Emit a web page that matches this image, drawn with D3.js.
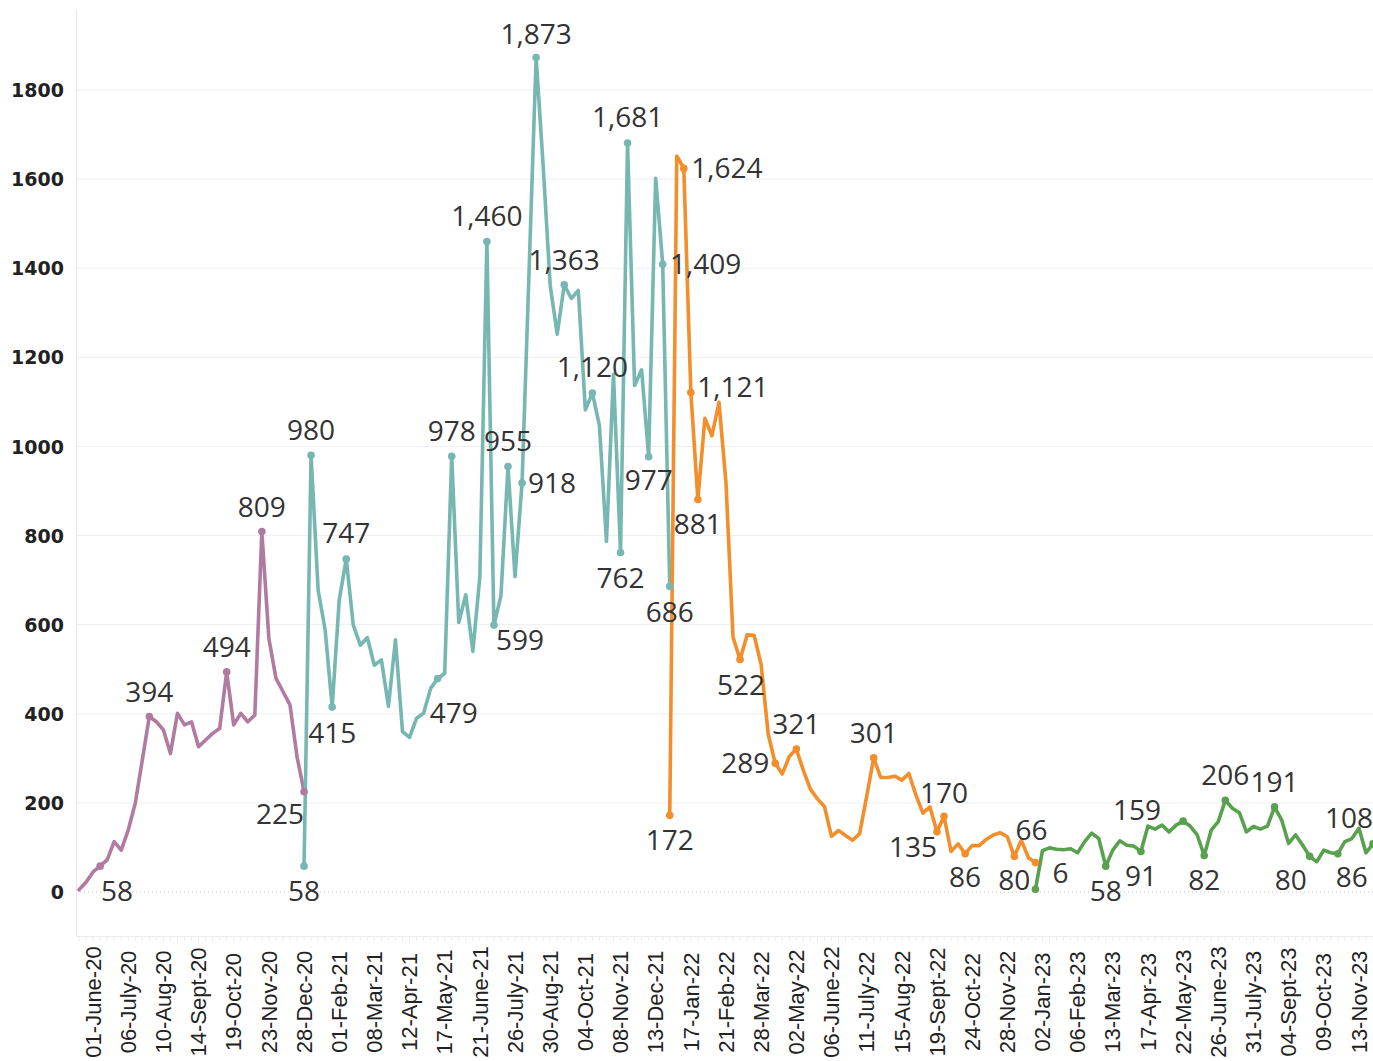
<!DOCTYPE html>
<html>
<head>
<meta charset="utf-8">
<script src="https://cdn.jsdelivr.net/npm/d3@7"></script>
<style>
  body { margin: 0; background: #fff; }
  svg { display: block; }
</style>
</head>
<body>
<svg id="chart"></svg>
<script>
// weekly counts, one line per year; each year starts on the Monday given
const start2020 = "2020-05-18";
const values2020 = [5, 22, 45, 58, 72, 113, 94, 139, 199, 296, 394, 382, 364, 311, 401, 375, 382,
  326, 341, 356, 367, 494, 375, 401, 382, 397, 809, 569, 480, 450, 420, 304, 225];
const labeled2020 = [3, 10, 21, 26, 32];

const start2021 = "2020-12-28";
const values2021 = [58, 980, 678, 588, 415, 655, 747, 599, 554, 571, 509, 521, 417, 566, 360, 347,
  390, 401, 457, 479, 491, 978, 605, 667, 540, 708, 1460, 599, 665, 955, 708, 918, 1395, 1873,
  1630, 1362, 1252, 1363, 1332, 1350, 1082, 1120, 1047, 787, 1162, 762, 1681, 1137, 1172, 977,
  1602, 1409, 686];
const labeled2021 = [0, 1, 4, 6, 19, 21, 26, 27, 29, 31, 33, 37, 41, 45, 46, 49, 51, 52];

const start2022 = "2021-12-27";
const values2022 = [172, 1652, 1624, 1121, 881, 1063, 1024, 1099, 918, 572, 522, 577, 576, 510,
  354, 289, 265, 304, 321, 273, 231, 209, 192, 125, 138, 127, 116, 131, 214, 301, 257, 257, 260,
  251, 266, 218, 177, 191, 135, 170, 91, 108, 86, 104, 104, 118, 128, 133, 124, 80, 116, 77, 66];
const labeled2022 = [0, 2, 3, 4, 10, 15, 18, 29, 38, 39, 42, 49, 52];

const start2023 = "2022-12-26";
const values2023 = [6, 93, 99, 96, 95, 97, 88, 113, 132, 120, 58, 94, 115, 105, 103, 91, 148, 141,
  150, 135, 150, 159, 148, 128, 82, 139, 158, 206, 188, 178, 135, 147, 141, 148, 191, 162, 109,
  128, 105, 80, 68, 94, 88, 86, 113, 120, 143, 88, 108];
const labeled2023 = [0, 10, 15, 21, 24, 27, 34, 39, 43, 48];

const tickStart = "2020-06-01";
const tickLabels = ["01-June-20", "06-July-20", "10-Aug-20", "14-Sept-20", "19-Oct-20",
  "23-Nov-20", "28-Dec-20", "01-Feb-21", "08-Mar-21", "12-Apr-21", "17-May-21", "21-June-21",
  "26-July-21", "30-Aug-21", "04-Oct-21", "08-Nov-21", "13-Dec-21", "17-Jan-22", "21-Feb-22",
  "28-Mar-22", "02-May-22", "06-June-22", "11-July-22", "15-Aug-22", "19-Sept-22", "24-Oct-22",
  "28-Nov-22", "02-Jan-23", "06-Feb-23", "13-Mar-23", "17-Apr-23", "22-May-23", "26-June-23",
  "31-July-23", "04-Sept-23", "09-Oct-23", "13-Nov-23"];
const yTicks = [0, 200, 400, 600, 800, 1000, 1200, 1400, 1600, 1800];

// label nudges (px) relative to the point, keyed by year and index
const labelOffsets = {
  2020: { 3: [17, 25], 10: [0, -24], 21: [0, -25], 26: [0, -24], 32: [-24, 22] },
  2021: { 0: [0, 25], 1: [0, -25], 4: [0, 26], 6: [0, -26], 19: [16, 35], 21: [0, -25],
    26: [0, -25], 27: [26, 15], 29: [0, -25], 31: [30, 0], 33: [0, -23], 37: [0, -25],
    41: [0, -26], 45: [0, 26], 46: [0, -26], 49: [0, 24], 51: [43, 0], 52: [0, 26] },
  2022: { 0: [0, 25], 2: [43, 0], 3: [42, -5], 4: [0, 25], 10: [1, 26], 15: [-30, 0],
    18: [0, -25], 29: [0, -25], 38: [-24, 15], 39: [0, -23], 42: [0, 24], 49: [0, 24],
    52: [-4, -32] },
  2023: { 0: [25, -16], 10: [0, 25], 15: [0, 25], 21: [-46, -11], 24: [0, 25], 27: [0, -25],
    34: [0, -25], 39: [-19, 24], 43: [14, 24], 48: [-24, -26] }
};

const width = 1373, height = 1061;
const parse = d3.utcParse("%Y-%m-%d");

const series = [
  { year: 2020, start: start2020, values: values2020, labeled: labeled2020, color: "#b07aa1" },
  { year: 2021, start: start2021, values: values2021, labeled: labeled2021, color: "#76b7b2" },
  { year: 2022, start: start2022, values: values2022, labeled: labeled2022, color: "#f28e2b" },
  { year: 2023, start: start2023, values: values2023, labeled: labeled2023, color: "#59a14f" }
];
series.forEach(s => {
  const d0 = parse(s.start);
  s.points = s.values.map((v, i) => ({ date: d3.utcDay.offset(d0, 7 * i), value: v, i }));
});

const first = series[0].points[0].date;
const last = series[3].points[series[3].points.length - 1].date;

const x = d3.scaleUtc().domain([first, last]).range([79, 1373]);
const y = d3.scaleLinear().domain([0, 1800]).range([892, 90]);

const plotLeft = 76, plotTop = 10, plotBottom = 936;

const svg = d3.select("#chart")
  .attr("width", width)
  .attr("height", height)
  .attr("viewBox", `0 0 ${width} ${height}`);

// gridlines
svg.append("g")
  .selectAll("line")
  .data(yTicks.filter(t => t !== 0))
  .enter()
  .append("line")
  .attr("x1", plotLeft)
  .attr("x2", width)
  .attr("y1", d => y(d))
  .attr("y2", d => y(d))
  .attr("stroke", "#efefef")
  .attr("stroke-width", 1);

svg.append("line")
  .attr("x1", plotLeft)
  .attr("x2", width)
  .attr("y1", y(0))
  .attr("y2", y(0))
  .attr("stroke", "#c4c4c4")
  .attr("stroke-width", 1)
  .attr("stroke-dasharray", "1,3");

// axis rulers
svg.append("line")
  .attr("x1", plotLeft + 0.5).attr("x2", plotLeft + 0.5)
  .attr("y1", plotTop).attr("y2", plotBottom)
  .attr("stroke", "#e6e6e6");

svg.append("line")
  .attr("x1", plotLeft).attr("x2", width)
  .attr("y1", plotBottom + 0.5).attr("y2", plotBottom + 0.5)
  .attr("stroke", "#ececec");

// weekly tick marks along the bottom
const weekTicks = d3.utcDay.range(first, d3.utcDay.offset(last, 1), 7);
svg.append("g")
  .selectAll("line")
  .data(weekTicks)
  .enter()
  .append("line")
  .attr("x1", d => x(d)).attr("x2", d => x(d))
  .attr("y1", plotBottom).attr("y2", plotBottom + 5)
  .attr("stroke", "#ececec");

// y axis labels
const yAxis = svg.append("g")
  .attr("transform", `translate(${plotLeft - 12},0)`)
  .call(d3.axisLeft(y).tickValues(yTicks).tickSize(0).tickPadding(0).tickFormat(d3.format("d")));
yAxis.select(".domain").remove();
yAxis.selectAll("text")
  .attr("font-family", "'DejaVu Sans', sans-serif")
  .attr("font-weight", "bold")
  .attr("font-size", 19)
  .attr("fill", "#222")
  .attr("dy", "0.35em");

// x axis labels, rotated
const tickDates = tickLabels.map((t, i) => d3.utcDay.offset(parse(tickStart), 35 * i));
svg.append("g")
  .selectAll("text")
  .data(tickDates)
  .enter()
  .append("text")
  .attr("transform", d => `translate(${x(d)},1002) rotate(-90)`)
  .attr("text-anchor", "middle")
  .attr("dy", "0.35em")
  .attr("font-family", "'Liberation Sans', Arial, sans-serif")
  .attr("font-size", 22)
  .attr("fill", "#222")
  .text((d, i) => tickLabels[i]);

// lines
const line = d3.line()
  .x(d => x(d.date))
  .y(d => y(d.value));

svg.append("g")
  .selectAll("path")
  .data(series)
  .enter()
  .append("path")
  .attr("d", d => line(d.points))
  .attr("fill", "none")
  .attr("stroke", d => d.color)
  .attr("stroke-width", 3.6)
  .attr("stroke-linejoin", "round")
  .attr("stroke-linecap", "round");

// marks and labels
const fmt = d3.format(",");
series.forEach(s => {
  const pts = s.labeled.map(i => s.points[i]);
  const g = svg.append("g");
  g.selectAll("circle")
    .data(pts)
    .enter()
    .append("circle")
    .attr("cx", d => x(d.date))
    .attr("cy", d => y(d.value))
    .attr("r", 3.8)
    .attr("fill", s.color);
  g.selectAll("text")
    .data(pts)
    .enter()
    .append("text")
    .attr("x", d => x(d.date) + labelOffsets[s.year][d.i][0])
    .attr("y", d => y(d.value) + labelOffsets[s.year][d.i][1])
    .attr("dy", "0.35em")
    .attr("text-anchor", "middle")
    .attr("font-family", "'Open Sans', sans-serif")
    .attr("font-size", 28)
    .attr("fill", "#333")
    .text(d => fmt(d.value));
});
</script>
</body>
</html>
